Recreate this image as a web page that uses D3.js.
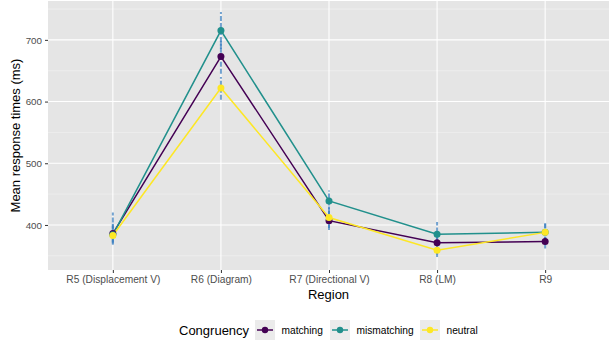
<!DOCTYPE html>
<html>
<head>
<meta charset="utf-8">
<script src="https://cdn.jsdelivr.net/npm/d3@7"></script>
<style>
  body { margin: 0; background: #ffffff; }
  svg { display: block; font-family: "Liberation Sans", Arial, sans-serif; }
</style>
</head>
<body>
<svg id="chart" width="609" height="342"></svg>
<script>
// Regions along the sentence
const regions = ["R5 (Displacement V)", "R6 (Diagram)", "R7 (Directional V)", "R8 (LM)", "R9"];

// Congruency conditions
const groups = ["matching", "mismatching", "neutral"];
const colors = ["#440154", "#21908C", "#FDE725"];

// Mean response times (ms) per region
const matching    = [386, 673, 407, 371, 373];
const mismatching = [384, 715, 439, 385, 388];
const neutral     = [383, 622, 412, 359, 388];

// Error bar extents (ms)
const matchingLow     = [372, 645, 395, 352, 362];
const matchingHigh    = [402, 700, 422, 390, 386];
const mismatchingLow  = [370, 685, 420, 365, 372];
const mismatchingHigh = [420, 745, 456, 405, 403];
const neutralLow      = [368, 603, 392, 348, 372];
const neutralHigh     = [398, 640, 430, 372, 402];

const yTicks = [400, 500, 600, 700];
const yMinor = [350, 450, 550, 650, 750];

const series = [
  { name: groups[0], color: colors[0], values: matching,    low: matchingLow,    high: matchingHigh },
  { name: groups[1], color: colors[1], values: mismatching, low: mismatchingLow, high: mismatchingHigh },
  { name: groups[2], color: colors[2], values: neutral,     low: neutralLow,     high: neutralHigh }
];

const svg = d3.select("#chart");
const panel = { left: 48, right: 610, top: 1, bottom: 270 };

const x = d3.scalePoint().domain(regions)
  .range([panel.left, panel.right]).padding(0.6);
const y = d3.scaleLinear().domain([327, 763]).range([panel.bottom, panel.top]);

// panel background
svg.append("rect")
  .attr("x", panel.left).attr("y", panel.top)
  .attr("width", panel.right - panel.left).attr("height", panel.bottom - panel.top)
  .attr("fill", "#e5e5e5");

// minor gridlines
svg.append("g").selectAll("line").data(yMinor).join("line")
  .attr("x1", panel.left).attr("x2", panel.right)
  .attr("y1", d => y(d)).attr("y2", d => y(d))
  .attr("stroke", "#f3f3f3").attr("stroke-width", 0.6);

// major gridlines
svg.append("g").selectAll("line").data(yTicks).join("line")
  .attr("x1", panel.left).attr("x2", panel.right)
  .attr("y1", d => y(d)).attr("y2", d => y(d))
  .attr("stroke", "#ffffff").attr("stroke-width", 1.1);
svg.append("g").selectAll("line").data(regions).join("line")
  .attr("x1", d => x(d)).attr("x2", d => x(d))
  .attr("y1", panel.top).attr("y2", panel.bottom)
  .attr("stroke", "#ffffff").attr("stroke-width", 1.1);

// axes
const yAxis = svg.append("g")
  .attr("transform", `translate(${panel.left},0)`)
  .call(d3.axisLeft(y).tickValues(yTicks).tickSize(3).tickPadding(3));
const xAxis = svg.append("g")
  .attr("transform", `translate(0,${panel.bottom})`)
  .call(d3.axisBottom(x).tickSize(3).tickPadding(3));
[yAxis, xAxis].forEach(a => {
  a.select(".domain").remove();
  a.selectAll(".tick line").attr("stroke", "#333333").attr("stroke-width", 1);
  a.selectAll(".tick text").attr("fill", "#4d4d4d")
    .style("font-family", "Liberation Sans, Arial, sans-serif");
});
yAxis.selectAll(".tick text").style("font-size", "9.8px");
xAxis.selectAll(".tick text").style("font-size", "10.2px");

// lines
const line = d3.line().x((d, i) => x(regions[i])).y(d => y(d));
svg.append("g").selectAll("path").data(series).join("path")
  .attr("d", s => line(s.values))
  .attr("fill", "none").attr("stroke", s => s.color).attr("stroke-width", 1.5);

// error bars
series.forEach(s => {
  svg.append("g").selectAll("line").data(regions).join("line")
    .attr("x1", d => x(d)).attr("x2", d => x(d))
    .attr("y1", (d, i) => y(s.low[i])).attr("y2", (d, i) => y(s.high[i]))
    .attr("stroke", "#3a7fc0").attr("stroke-opacity", 0.7)
    .attr("stroke-width", 2).attr("stroke-dasharray", "5,2");
});

// points
series.forEach(s => {
  svg.append("g").selectAll("circle").data(s.values).join("circle")
    .attr("cx", (d, i) => x(regions[i])).attr("cy", d => y(d))
    .attr("r", 3.5).attr("fill", s.color);
});

// axis titles
svg.append("text")
  .attr("x", (panel.left + panel.right) / 2 - 0.5).attr("y", 298.5)
  .attr("text-anchor", "middle").style("font-size", "13px").attr("fill", "#000")
  .text("Region");
svg.append("text")
  .attr("transform", `translate(19.5,${(panel.top + panel.bottom) / 2}) rotate(-90)`)
  .attr("text-anchor", "middle").style("font-size", "13px").attr("fill", "#000")
  .text("Mean response times (ms)");

// legend
const legend = svg.append("g").attr("transform", "translate(0,330)");
legend.append("text").attr("x", 179).attr("y", 5)
  .style("font-size", "13px").attr("fill", "#000").text("Congruency");
const keyX = [255, 330, 420];
series.forEach((s, i) => {
  const g = legend.append("g").attr("transform", `translate(${keyX[i]},0)`);
  g.append("rect").attr("x", 0).attr("y", -10).attr("width", 20).attr("height", 20).attr("fill", "#ebebeb");
  g.append("line").attr("x1", 2).attr("x2", 18).attr("y1", 0).attr("y2", 0)
    .attr("stroke", s.color).attr("stroke-width", 1.5);
  g.append("circle").attr("cx", 10).attr("cy", 0).attr("r", 3.2).attr("fill", s.color);
  g.append("text").attr("x", 26.5).attr("y", 3.7)
    .style("font-size", "10.2px").attr("fill", "#000").text(s.name);
});
</script>
</body>
</html>
